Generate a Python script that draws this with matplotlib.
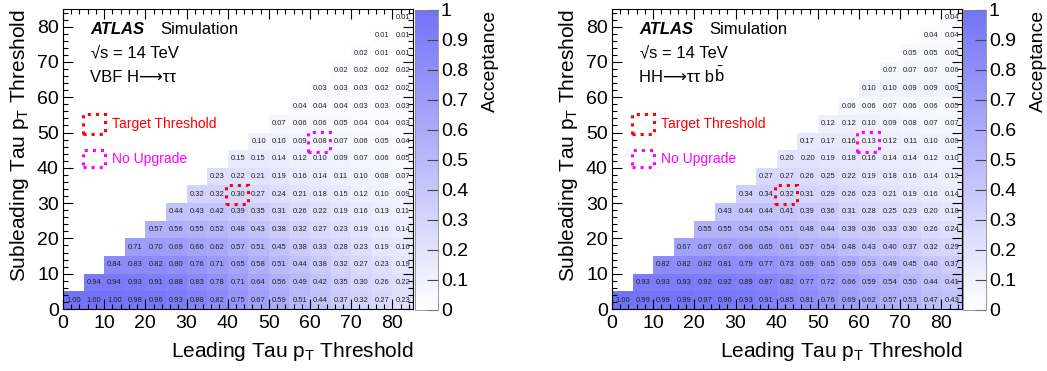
import numpy as np
import matplotlib
matplotlib.use('Agg')
import matplotlib.pyplot as plt
from matplotlib.colors import LinearSegmentedColormap
from matplotlib.patches import Rectangle
from matplotlib.ticker import MultipleLocator

plt.rcParams['font.family'] = ['Liberation Sans', 'DejaVu Sans']
plt.rcParams['mathtext.fontset'] = 'custom'
plt.rcParams['mathtext.rm'] = 'Liberation Sans'
plt.rcParams['mathtext.it'] = 'Liberation Sans:italic'
plt.rcParams['mathtext.bf'] = 'Liberation Sans:bold'
plt.rcParams['mathtext.default'] = 'regular'

# bin edges of the thresholds (GeV)
edges = np.arange(0, 90, 5)

# acceptance, one list per subleading threshold row (0, 5, ..., 80),
# starting at leading threshold == subleading threshold
vbf_rows = [
    [1.00, 1.00, 1.00, 0.98, 0.96, 0.93, 0.88, 0.82, 0.75, 0.67, 0.59, 0.51, 0.44, 0.37, 0.32, 0.27, 0.23],
    [0.94, 0.94, 0.93, 0.91, 0.88, 0.83, 0.78, 0.71, 0.64, 0.56, 0.49, 0.42, 0.35, 0.30, 0.26, 0.22],
    [0.84, 0.83, 0.82, 0.80, 0.76, 0.71, 0.65, 0.58, 0.51, 0.44, 0.38, 0.32, 0.27, 0.23, 0.19],
    [0.71, 0.70, 0.69, 0.66, 0.62, 0.57, 0.51, 0.45, 0.38, 0.33, 0.28, 0.23, 0.19, 0.16],
    [0.57, 0.56, 0.55, 0.52, 0.48, 0.43, 0.38, 0.32, 0.27, 0.23, 0.19, 0.16, 0.14],
    [0.44, 0.43, 0.42, 0.39, 0.35, 0.31, 0.26, 0.22, 0.19, 0.16, 0.13, 0.11],
    [0.32, 0.32, 0.30, 0.27, 0.24, 0.21, 0.18, 0.15, 0.12, 0.10, 0.09],
    [0.23, 0.22, 0.21, 0.19, 0.16, 0.14, 0.11, 0.10, 0.08, 0.07],
    [0.15, 0.15, 0.14, 0.12, 0.10, 0.09, 0.07, 0.06, 0.05],
    [0.10, 0.10, 0.09, 0.08, 0.07, 0.06, 0.05, 0.04],
    [0.07, 0.06, 0.06, 0.05, 0.04, 0.04, 0.03],
    [0.04, 0.04, 0.04, 0.03, 0.03, 0.03],
    [0.03, 0.03, 0.03, 0.02, 0.02],
    [0.02, 0.02, 0.02, 0.02],
    [0.02, 0.01, 0.01],
    [0.01, 0.01],
    [0.01],
]

hh_rows = [
    [1.00, 0.99, 0.99, 0.99, 0.97, 0.96, 0.93, 0.91, 0.85, 0.81, 0.76, 0.69, 0.62, 0.57, 0.53, 0.47, 0.43],
    [0.93, 0.93, 0.93, 0.92, 0.92, 0.89, 0.87, 0.82, 0.77, 0.72, 0.66, 0.59, 0.54, 0.50, 0.44, 0.41],
    [0.82, 0.82, 0.82, 0.81, 0.79, 0.77, 0.73, 0.69, 0.65, 0.59, 0.53, 0.49, 0.45, 0.40, 0.37],
    [0.67, 0.67, 0.67, 0.66, 0.65, 0.61, 0.57, 0.54, 0.48, 0.43, 0.40, 0.37, 0.32, 0.29],
    [0.55, 0.55, 0.54, 0.54, 0.51, 0.48, 0.44, 0.39, 0.36, 0.33, 0.30, 0.26, 0.24],
    [0.43, 0.44, 0.44, 0.41, 0.39, 0.36, 0.31, 0.28, 0.25, 0.23, 0.20, 0.18],
    [0.34, 0.34, 0.32, 0.31, 0.29, 0.26, 0.23, 0.21, 0.19, 0.16, 0.14],
    [0.27, 0.27, 0.26, 0.25, 0.22, 0.19, 0.18, 0.16, 0.14, 0.12],
    [0.20, 0.20, 0.19, 0.18, 0.16, 0.14, 0.14, 0.12, 0.10],
    [0.17, 0.17, 0.16, 0.13, 0.12, 0.11, 0.10, 0.09],
    [0.12, 0.12, 0.10, 0.09, 0.08, 0.07, 0.07],
    [0.06, 0.06, 0.07, 0.06, 0.06, 0.05],
    [0.10, 0.10, 0.09, 0.09, 0.09],
    [0.07, 0.07, 0.07, 0.06],
    [0.05, 0.05, 0.05],
    [0.04, 0.04],
    [0.04],
]

# process label: plain part, then optional barred suffix
channels = [('VBF H\u27f6\u03c4\u03c4', ''),
            ('HH\u27f6\u03c4\u03c4 b', r'$\bar{b}$')]
target_cell = (40, 30)      # (leading, subleading)
no_upgrade_cell = (60, 45)

cmap = LinearSegmentedColormap.from_list('acc', ['#ffffff', '#7373f7'])

W, H = 1047, 371
fig = plt.figure(figsize=(W / 100, H / 100), dpi=100)


def px_rect(x0, y_top, w, h):
    return [x0 / W, (H - y_top - h) / H, w / W, h / H]


def build_grid(rows):
    z = np.full((17, 17), np.nan)
    for i, row in enumerate(rows):
        z[i, i:i + len(row)] = row
    return np.ma.masked_invalid(z)


panels = [(63, 415, 490, vbf_rows, channels[0]),
          (612, 963, 1038, hh_rows, channels[1])]

for ax_x, cb_x, acc_x, rows, chan in panels:
    ax = fig.add_axes(px_rect(ax_x, 9, 350, 300))
    cax = fig.add_axes(px_rect(cb_x, 10, 23, 300))

    z = build_grid(rows)
    mesh = ax.pcolormesh(edges, edges, z, cmap=cmap, vmin=0, vmax=1)
    for i, row in enumerate(rows):
        for k, v in enumerate(row):
            ax.text(edges[i + k] + 2.5, edges[i] + 2.5, '%.2f' % v,
                    ha='center', va='center', fontsize=5.5, color='#222222')

    ax.set_xlim(0, 85)
    ax.set_ylim(0, 85)
    ax.xaxis.set_major_locator(MultipleLocator(10))
    ax.yaxis.set_major_locator(MultipleLocator(10))
    ax.xaxis.set_minor_locator(MultipleLocator(2))
    ax.yaxis.set_minor_locator(MultipleLocator(2))
    ax.tick_params(which='both', direction='in', top=True, right=True, labelsize=14)
    ax.tick_params(which='major', length=7, width=0.8)
    ax.tick_params(which='minor', length=3.5, width=0.8)
    ax.tick_params(axis='x', pad=4)
    ax.tick_params(axis='y', pad=3)

    # highlighted thresholds
    tx, ty = target_cell
    ax.add_patch(Rectangle((tx - 0.5, ty - 0.3), 5.5, 5.5, fill=False,
                           edgecolor='red', linestyle=':', linewidth=2.2, zorder=5))
    nx, ny = no_upgrade_cell
    ax.add_patch(Rectangle((nx - 0.6, ny - 0.5), 5.5, 5.6, fill=False,
                           edgecolor='magenta', linestyle=':', linewidth=2.2, zorder=5))

    # legend boxes
    ax.add_patch(Rectangle((4.9, 49.6), 5.3, 5.7, fill=False, edgecolor='red',
                           linestyle=':', linewidth=2.2, clip_on=False))
    ax.add_patch(Rectangle((4.9, 40.2), 5.3, 4.8, fill=False, edgecolor='magenta',
                           linestyle=':', linewidth=2.2, clip_on=False))
    ax.text(12.0, 52.5, 'Target Threshold', color='red', fontsize=10, va='center')
    ax.text(12.0, 42.6, 'No Upgrade', color='magenta', fontsize=10, va='center')

    ax.text(0.077, 0.93, 'ATLAS', transform=ax.transAxes, fontsize=12,
            fontweight='bold', fontstyle='italic', va='center')
    ax.text(0.277, 0.93, 'Simulation', transform=ax.transAxes, fontsize=12, va='center')
    ax.text(0.08, 0.853, '\u221as = 14 TeV', transform=ax.transAxes, fontsize=12, va='center')
    t = ax.text(0.077, 0.745, chan[0], transform=ax.transAxes, fontsize=12, va='bottom')
    if chan[1]:
        ax.annotate(chan[1], xy=(1, 0), xycoords=t, fontsize=12, va='bottom', ha='left')

    cb = fig.colorbar(mesh, cax=cax)
    cb.set_ticks(np.round(np.arange(0, 1.01, 0.1), 1))
    cb.set_ticklabels(['0', '0.1', '0.2', '0.3', '0.4', '0.5', '0.6', '0.7', '0.8', '0.9', '1'])
    cax.tick_params(direction='in', length=8, width=0.8, labelsize=14, pad=2, color='#444444')
    cb.outline.set_edgecolor('#888888')
    cb.outline.set_linewidth(0.6)

    fig.text(acc_x / W, (H - 10) / H, 'Acceptance', rotation=90, fontsize=14,
             ha='center', va='top')
    fig.text((ax_x + 350) / W, (H - 357) / H,
             r'Leading Tau p$_{\mathregular{T}}$ Threshold', fontsize=15,
             ha='right', va='baseline')
    fig.text((ax_x - 55) / W, (H - 9) / H,
             r'Subleading Tau p$_{\mathregular{T}}$ Threshold', fontsize=15,
             rotation=90, ha='left', va='top')

fig.savefig('out.png', dpi=100)
